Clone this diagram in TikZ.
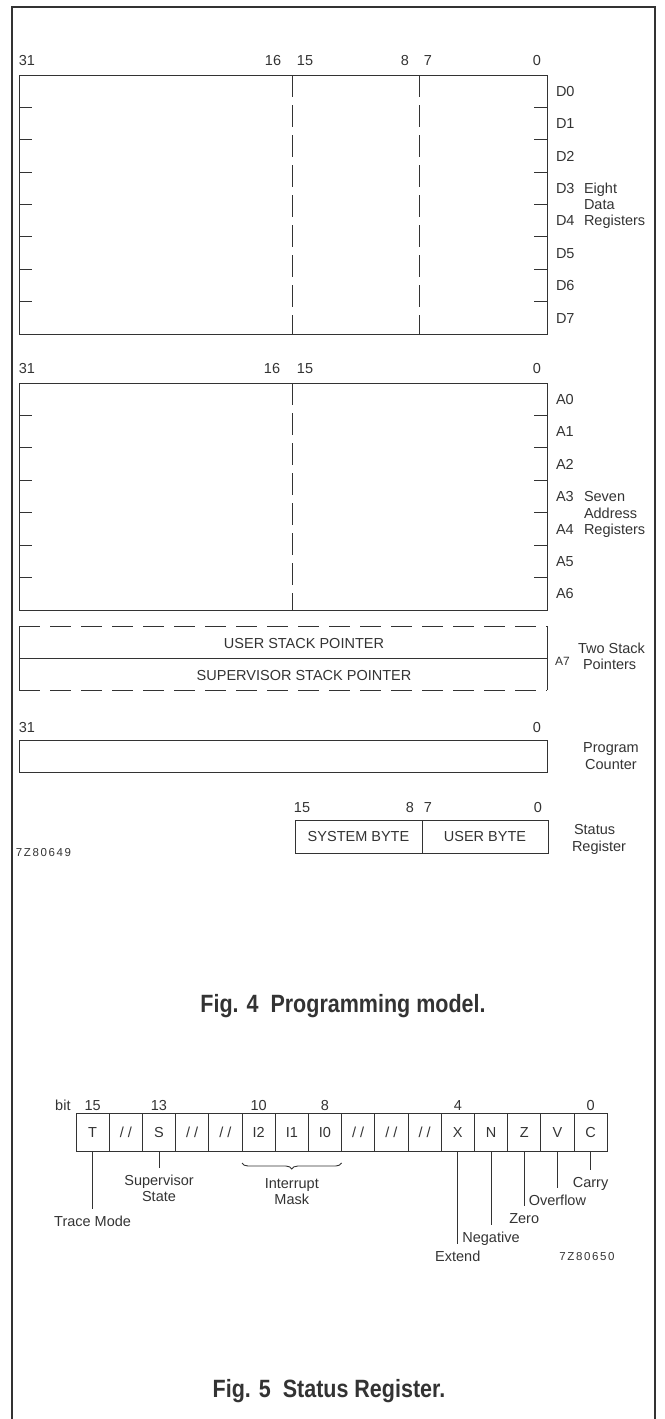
\documentclass[tikz,border=0pt]{standalone}
\usepackage{fontspec}
\setmainfont{Liberation Sans}
\newfontfamily\capfont[FakeStretch=0.86]{Liberation Sans}
\newfontfamily\codefont[LetterSpace=14]{Liberation Sans}
\usetikzlibrary{positioning,decorations.pathreplacing}
\definecolor{ink}{gray}{0.2}

\tikzset{
  lbl/.style={font=\fontsize{14.5}{16}\selectfont, inner sep=0pt, outer sep=0pt,
              text height=10.4pt, text depth=0pt, text=ink},
  small/.style={lbl, font=\fontsize{12}{14}\selectfont, text height=8.6pt},
  code/.style={lbl, font=\codefont\fontsize{11.5}{13}\selectfont, text height=8.2pt},
  caption/.style={lbl, font=\capfont\bfseries\fontsize{25}{28}\selectfont, text height=18pt},
  bitcell/.style={lbl, draw=ink, line width=1pt, minimum width=33.2pt, minimum height=38pt},
  reg/.style={draw=ink, line width=1pt},
  regdash/.style={reg, dash pattern=on 22pt off 8pt},   % split lines inside a register
  spdash/.style={reg, dash pattern=on 21pt off 10pt},   % open edges of the A7 pair
  leader/.style={draw=ink, line width=0.9pt, shorten >=7pt},
}

\begin{document}
\begin{tikzpicture}[x=1pt,y=-1pt]
    \useasboundingbox (0,0) rectangle (664,1419);
    % page frame, open at the bottom
    \draw[ink, line width=1.2pt] (12,1425) -- (12,7) -- (655,7) -- (655,1425);

    % ---------- data registers
    \node[lbl] (d31) at (27,60) {31};
    \node[lbl] (d16) at (273,60) {16};
    \node[lbl] (d15) at (305,60) {15};
    \node[lbl] (d8)  at (405,60) {8};
    \node[lbl] (d7)  at (428,60) {7};
    \node[lbl] (d0)  at (537,60) {0};
    \draw[reg] (19,75) rectangle (547,334);
    \draw[regdash] (292,75) -- (292,334);
    \draw[regdash] (419,75) -- (419,334);
    \foreach \k in {1,...,7} {
        \draw[reg] (19,75+32.375*\k) -- +(13,0);
        \draw[reg] (534,75+32.375*\k) -- +(13,0);
    }
    \foreach \k in {0,...,7}
        \node[lbl, anchor=west] (D\k) at (556,91.2+32.375*\k) {D\k};
    \node[lbl, anchor=west] (eight) at (584,188.3) {Eight};
    \node[lbl, anchor=west] (data)  at (584,204.5) {Data};
    \node[lbl, anchor=west] (dregs) at (584,220.7) {Registers};

    % ---------- address registers
    \node[lbl] (a31) at (27,368) {31};
    \node[lbl] (a16) at (272,368) {16};
    \node[lbl] (a15) at (305,368) {15};
    \node[lbl] (a0)  at (537,368) {0};
    \draw[reg] (19,383) rectangle (547,610);
    \draw[regdash] (292,383) -- (292,610);
    \foreach \k in {1,...,6} {
        \draw[reg] (19,383+32.43*\k) -- +(13,0);
        \draw[reg] (534,383+32.43*\k) -- +(13,0);
    }
    \foreach \k in {0,...,6}
        \node[lbl, anchor=west] (A\k) at (556,399.2+32.43*\k) {A\k};
    \node[lbl, anchor=west] (seven) at (584,496.5) {Seven};
    \node[lbl, anchor=west] (addr)  at (584,513) {Address};
    \node[lbl, anchor=west] (aregs) at (584,529) {Registers};

    % ---------- A7: user / supervisor stack pointers
    \draw[reg] (19,626) -- (19,690) (547,626) -- (547,690) (19,658) -- (547,658);
    \draw[spdash] (19,626) -- (547,626);
    \draw[spdash] (19,690) -- (547,690);
    \node[lbl] (usp) at (304,643) {USER STACK POINTER};
    \node[lbl] (ssp) at (304,675) {SUPERVISOR STACK POINTER};
    \node[small, anchor=west] (a7) at (555,661) {A7};
    \node[lbl, anchor=west] (twostack) at (578,648) {Two Stack};
    \node[lbl, anchor=west] (pointers) at (583,664) {Pointers};

    % ---------- program counter
    \node[lbl] (p31) at (27,727) {31};
    \node[lbl] (p0)  at (537,727) {0};
    \draw[reg] (19,740) rectangle (547,772);
    \node[lbl] (program) at (611,747) {Program};
    \node[lbl] (counter) at (611,764) {Counter};

    % ---------- status register
    \node[lbl] (s15) at (302,807) {15};
    \node[lbl] (s8)  at (410,807) {8};
    \node[lbl] (s7)  at (428,807) {7};
    \node[lbl] (s0)  at (538,807) {0};
    \node[bitcell, minimum width=127pt, minimum height=33pt] (sysbyte) at (358.5,836.5) {SYSTEM BYTE};
    \node[bitcell, minimum width=126pt, minimum height=33pt, right=0pt of sysbyte] (userbyte) {USER BYTE};
    \node[lbl, anchor=west] (status) at (574,829) {Status};
    \node[lbl, anchor=west] (sreg)   at (572,846) {Register};
    \node[code, anchor=west] (ref4) at (16,852) {7Z80649};

    \node[caption] (fig4) at (343,1003) {Fig. 4\ \ Programming model.};

    % ---------- status register bits, b15 ... b0
    \foreach \t [count=\i from 0] in {T,{/ /},S,{/ /},{/ /},I2,I1,I0,{/ /},{/ /},{/ /},X,N,Z,V,C} {
        \pgfmathtruncatemacro\b{15-\i}
        \node[bitcell] (b\b) at (92.6+33.2*\i,1132) {\t};
    }
    \foreach \b in {15,13,10,8,4,0}
        \node[lbl, above=2.8pt of b\b] (n\b) {\b};
    \node[lbl, left=14pt of n15] (bitword) {bit};

    \node[lbl, below=64.8pt of b15] (trace) {Trace Mode};
    \draw[leader] (b15.south) -- (trace.north);

    \node[lbl, below=23.8pt of b13] (supv) {Supervisor};
    \node[lbl, below=5.6pt of supv] (state) {State};
    \draw[leader] (b13.south) -- (supv.north);

    \draw[ink, line width=0.9pt, decorate, decoration={brace, mirror, amplitude=6pt}]
        ([yshift=-12pt]b10.south west) -- ([yshift=-12pt]b8.south east);
    \node[lbl, below=26.8pt of b9] (intr) {Interrupt};
    \node[lbl, below=5.6pt of intr] (mask) {Mask};

    \node[lbl, below=99.8pt of b4] (extend) {Extend};
    \node[lbl, below=80.8pt of b3] (negative) {Negative};
    \node[lbl, below=61.8pt of b2] (zero) {Zero};
    \node[lbl, below=43.8pt of b1] (overflow) {Overflow};
    \node[lbl, below=25.8pt of b0] (carry) {Carry};
    \draw[leader] (b4.south) -- (extend.north);
    \draw[leader] (b3.south) -- (negative.north);
    \draw[leader] (b2.south) -- (zero.north);
    \draw[leader] (b1.south) -- (overflow.north);
    \draw[leader] (b0.south) -- (carry.north);

    \node[code] (ref5) at (587,1256) {7Z80650};

    \node[caption] (fig5) at (329,1388) {Fig. 5\ \ Status Register.};
\end{tikzpicture}
\end{document}
